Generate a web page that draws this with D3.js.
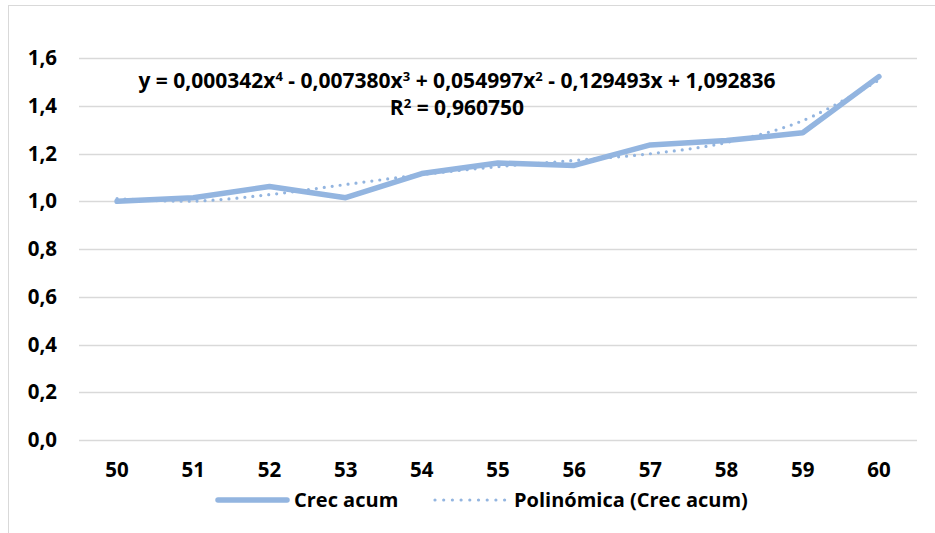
<!DOCTYPE html>
<html>
  <head>
    <meta charset="utf-8">
    <title>Crec acum</title>
    <script src="https://d3js.org/d3.v7.min.js"></script>
    <style>
      body { margin: 0; background: white; }
      text { font-family: "Open Sans", Lato, sans-serif; font-weight: bold; fill: #000; }
    </style>
  </head>
  <body>
    <svg id="chart" width="935" height="533"></svg>
    <script>
      // data
      const years = [50, 51, 52, 53, 54, 55, 56, 57, 58, 59, 60];
      const crecAcum = [1.000, 1.015, 1.062, 1.015, 1.116, 1.160, 1.150, 1.236, 1.254, 1.287, 1.522];
      // polynomial trend values at each year (from the printed equation)
      const trend = [1.0113, 1.0003, 1.0278, 1.0700, 1.1115, 1.1449, 1.1710, 1.1990, 1.2460, 1.3376, 1.5075];
      const yTicks = [0, 0.2, 0.4, 0.6, 0.8, 1.0, 1.2, 1.4, 1.6];
      const equation = ["y = 0,000342x", "4", " - 0,007380x", "3", " + 0,054997x", "2", " - 0,129493x + 1,092836"];
      const rSquared = ["R", "2", " = 0,960750"];

      const colour = "#93b5e0";
      const fontSize = 20.5;
      const margin = { top: 58, right: 18, bottom: 93, left: 79 };
      const width = 935, height = 533;

      const svg = d3.select("#chart");
      // chart area border
      svg.append("rect")
        .attr("x", 8.5).attr("y", 5.5)
        .attr("width", 940).attr("height", 540)
        .attr("fill", "none")
        .attr("stroke", "#d9d9d9");

      const x = d3.scaleBand()
        .domain(years)
        .range([margin.left, width - margin.right]);
      const y = d3.scaleLinear()
        .domain([0, 1.6])
        .range([height - margin.bottom, margin.top]);

      // gridlines
      svg.append("g")
        .selectAll("line")
          .data(yTicks)
        .enter().append("line")
          .attr("x1", margin.left).attr("x2", width - margin.right)
          .attr("y1", d => Math.round(y(d)) + 0.5)
          .attr("y2", d => Math.round(y(d)) + 0.5)
          .attr("stroke", "#d9d9d9")
          .attr("stroke-width", 1.5);

      // y axis labels
      const fmt = d => d3.format(".1f")(d).replace(".", ",");
      const yAxis = d3.axisLeft(y).tickValues(yTicks).tickFormat(fmt).tickSize(0).tickPadding(0);
      svg.append("g")
        .attr("transform", "translate(57,0)")
        .call(yAxis)
        .call(g => g.select(".domain").remove())
        .selectAll("text")
          .attr("font-size", fontSize)
          .attr("font-family", null);

      // x axis labels
      const xAxis = d3.axisBottom(x).tickSize(0).tickPadding(0);
      svg.append("g")
        .attr("transform", "translate(0," + (height - margin.bottom + 22) + ")")
        .call(xAxis)
        .call(g => g.select(".domain").remove())
        .selectAll("text")
          .attr("font-size", fontSize)
          .attr("font-family", null);

      const cx = d => x(d) + x.bandwidth() / 2;

      // data line
      const line = d3.line()
        .x((d, i) => cx(years[i]))
        .y(d => y(d));
      svg.append("path")
        .datum(crecAcum)
        .attr("d", line)
        .attr("fill", "none")
        .attr("stroke", colour)
        .attr("stroke-width", 5.5)
        .attr("stroke-linejoin", "round")
        .attr("stroke-linecap", "round");

      // trend line
      const trendLine = d3.line()
        .x((d, i) => cx(years[i]))
        .y(d => y(d))
        .curve(d3.curveCatmullRom);
      svg.append("path")
        .datum(trend)
        .attr("d", trendLine)
        .attr("fill", "none")
        .attr("stroke", colour)
        .attr("stroke-width", 3.2)
        .attr("stroke-dasharray", "0 8")
        .attr("stroke-linecap", "round");

      // equation label
      function superText(parts, yPos) {
        const t = svg.append("text")
          .attr("x", 457).attr("y", yPos)
          .attr("text-anchor", "middle")
          .attr("font-size", 21);
        parts.forEach((p, i) => {
          const sup = i % 2 === 1;
          t.append("tspan")
            .attr("dy", sup ? -7 : (i > 0 ? 7 : 0))
            .attr("font-size", sup ? 13 : 21)
            .text(p);
        });
      }
      superText(equation, 88);
      superText(rSquared, 115);

      // legend
      const legend = svg.append("g").attr("transform", "translate(0,500)");
      legend.append("line")
        .attr("x1", 218).attr("x2", 287)
        .attr("stroke", colour).attr("stroke-width", 5.5)
        .attr("stroke-linecap", "round");
      legend.append("text")
        .attr("x", 294).attr("y", 7)
        .attr("font-size", 20)
        .text("Crec acum");
      legend.append("line")
        .attr("x1", 435).attr("x2", 505)
        .attr("stroke", colour).attr("stroke-width", 3.2)
        .attr("stroke-dasharray", "0 8.7")
        .attr("stroke-linecap", "round");
      legend.append("text")
        .attr("x", 514).attr("y", 7)
        .attr("font-size", 20)
        .text("Polinómica (Crec acum)");
    </script>
  </body>
</html>
